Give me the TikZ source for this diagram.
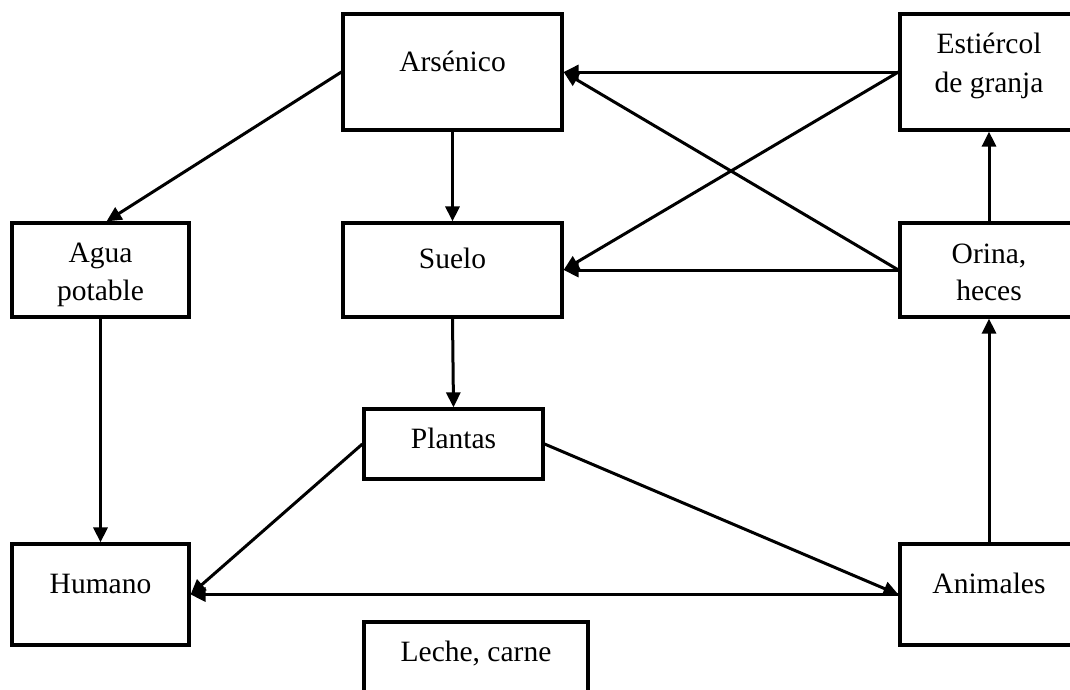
\documentclass[tikz,border=0pt]{standalone}
\usepackage{fontspec}
\setmainfont{Liberation Serif}
\usetikzlibrary{arrows.meta}
\begin{document}
\begin{tikzpicture}[x=1pt,y=-1pt,
  box/.style={draw=black,line width=3.2pt,rectangle,inner sep=0pt},
  txt/.style={anchor=base,inner sep=0pt,font=\fontsize{29.5}{38}\selectfont},
  conn/.style={line width=3pt,-{Triangle[length=15pt,width=14pt]}}]
\useasboundingbox (0,0) rectangle (1070,689);
\clip (0,0) rectangle (1070,689);
\fill[white] (0,0) rectangle (1070,689);
% boxes
\node[box,minimum width=219pt,minimum height=116pt] (ars) at (452.5,72) {};
\node[box,minimum width=177pt,minimum height=94pt] (agua) at (100.5,270) {};
\node[box,minimum width=219pt,minimum height=94pt] (suelo) at (452.5,270) {};
\node[box,minimum width=178pt,minimum height=116pt] (est) at (989,72) {};
\node[box,minimum width=178pt,minimum height=94pt] (ori) at (989,270) {};
\node[box,minimum width=179pt,minimum height=70pt] (pla) at (453.5,444) {};
\node[box,minimum width=177pt,minimum height=101pt] (hum) at (100.5,594.5) {};
\node[box,minimum width=178pt,minimum height=101pt] (ani) at (989,594.5) {};
\node[box,minimum width=224pt,minimum height=100pt] (lec) at (476,672) {};
% texts
\node[txt] (ars-t) at (452.5,71) {Arsénico};
\node[txt] (agua-t1) at (100.5,262) {Agua};
\node[txt] (agua-t2) at (100.5,300) {potable};
\node[txt] (suelo-t) at (452.5,268) {Suelo};
\node[txt] (est-t1) at (989,53) {Estiércol};
\node[txt] (est-t2) at (989,92) {de granja};
\node[txt] (ori-t1) at (989,263) {Orina,};
\node[txt] (ori-t2) at (989,300) {heces};
\node[txt] (pla-t) at (453.5,448) {Plantas};
\node[txt] (hum-t) at (100.5,593) {Humano};
\node[txt] (ani-t) at (989,593) {Animales};
\node[txt] (lec-t) at (476,661) {Leche, carne};
% connectors
\draw[conn] (ars.west) -- ([xshift=6pt]agua.north);
\draw[conn] (ars.south) -- (suelo.north);
\draw[conn] (est.west) -- (ars.east);
\draw[conn] (est.west) -- (suelo.east);
\draw[conn] (ori.west) -- (ars.east);
\draw[conn] (ori.west) -- (suelo.east);
\draw[conn] (ori.north) -- (est.south);
\draw[conn] (suelo.south) -- (pla.north);
\draw[conn] (agua.south) -- (hum.north);
\draw[conn] (pla.west) -- (hum.east);
\draw[conn] (pla.east) -- (ani.west);
\draw[conn] (ani.west) -- (hum.east);
\draw[conn] (ani.north) -- (ori.south);
\end{tikzpicture}
\end{document}
